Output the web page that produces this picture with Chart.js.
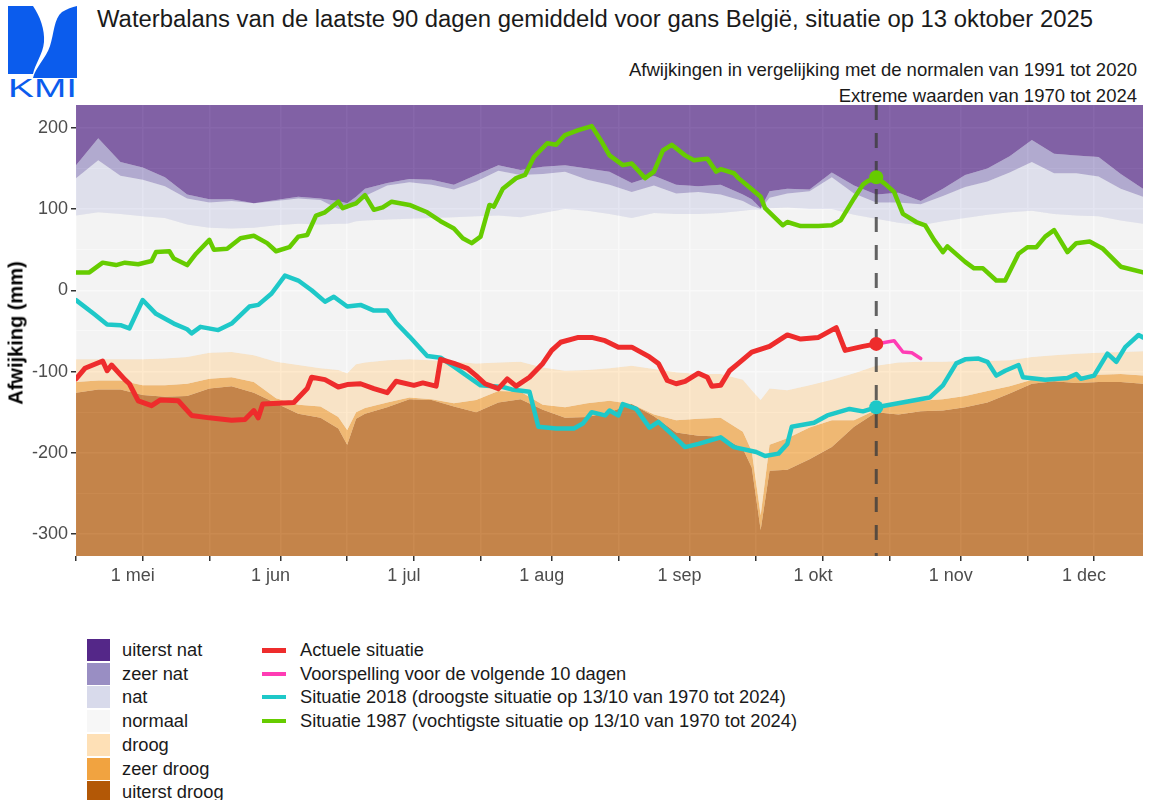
<!DOCTYPE html>
<html lang="nl">
<head>
<meta charset="utf-8">
<title>Waterbalans KMI</title>
<script src="https://cdn.jsdelivr.net/npm/chart.js"></script>
<style>
  body { margin: 0; background: #fff; font-family: "Liberation Sans", Arial, sans-serif; }
  #wrap { position: relative; width: 1150px; height: 800px; overflow: hidden; }
  #chart-box { position: absolute; left: 0; top: 0; width: 1150px; height: 600px; }
  .logo { position: absolute; left: 0; top: 0; }
  .title { position: absolute; left: 97px; top: 7px; font-size: 23.85px; line-height: 24px; color: #1a1a1a; white-space: nowrap; }
  .sub { position: absolute; right: 13px; font-size: 18.5px; line-height: 18px; color: #1a1a1a; white-space: nowrap; }
  .ytitle { position: absolute; left: 16px; top: 333px; transform: translate(-50%, -50%) rotate(-90deg);
            font-weight: bold; font-size: 20px; color: #000; white-space: nowrap; }
  .key { position: absolute; }
  .key-text { position: absolute; font-size: 18.3px; line-height: 20px; color: #1a1a1a; white-space: nowrap; }
</style>
</head>
<body>
<div id="wrap">
  <svg class="logo" width="80" height="100" viewBox="0 0 80 100">
    <path d="M8 6 L33 6 C40 16 45 30 44 42 C43 54 35 64 33 74 L8 74 Z" fill="#0b5ced"/>
    <path d="M77 6 L77 78 L33 78 C35 68 46 58 50 46 C54 34 54 18 62 12 C67 9 72 7 77 6 Z" fill="#0b5ced"/>
    <text x="8" y="97" font-size="25" fill="#0b5ced" textLength="69" lengthAdjust="spacingAndGlyphs"
          font-family="Liberation Sans, Arial, sans-serif">KMI</text>
  </svg>
  <div class="title">Waterbalans van de laatste 90 dagen gemiddeld voor gans België, situatie op 13 oktober 2025</div>
  <div class="sub" style="top:61px">Afwijkingen in vergelijking met de normalen van 1991 tot 2020</div>
  <div class="sub" style="top:87px">Extreme waarden van 1970 tot 2024</div>
  <div id="chart-box"><canvas id="balance-chart" width="1150" height="600"></canvas></div>
  <div class="ytitle">Afwijking (mm)</div>
  <div id="legend"></div>
</div>

<script>
// day 0 = 16 april, day 180 = 13 oktober (today)
const tickDays = [0, 15, 30, 46, 61, 76, 91, 107, 122, 138, 153, 168, 183, 199, 214, 229]
const tickLabels = ["", "1 mei", "", "1 jun", "", "1 jul", "", "1 aug", "", "1 sep", "", "1 okt", "", "1 nov", "", "1 dec"]
const yGridValues = [-300, -250, -200, -150, -100, -50, 0, 50, 100, 150, 200]
const todayDay = 180
const yMin = -327
const yMax = 228

// band limits (mm), top of each class
const bandDays = [0, 5, 10, 15, 20, 25, 30, 35, 40, 45, 50, 55, 59, 61, 63,
    65, 70, 75, 80, 85, 90, 95, 100, 105, 110, 115, 120, 125, 130, 135, 140, 145, 150,
    152, 154, 156,
    160, 165, 170, 175, 180, 185, 190, 195, 200, 205, 210, 215, 220, 225, 230, 235, 240]
const zeerNatTop = [154, 187, 158, 151, 139, 118, 112, 112, 107, 111, 115, 113, 110, 107, 115,
    125, 132, 137, 136, 130, 142, 154, 148, 152, 154, 150, 146, 132, 141, 130, 128, 130, 118,
    112, 101, 122,
    125, 124, 145, 129, 118, 120, 110, 125, 142, 150, 165, 185, 168, 166, 164, 143, 125]
const natTop = [138, 160, 141, 136, 128, 113, 108, 110, 107, 110, 113, 111, 100, 100, 108,
    116, 129, 133, 130, 124, 134, 147, 142, 143, 146, 136, 130, 121, 129, 119, 121, 118, 110,
    104, 100, 114,
    119, 122, 139, 119, 108, 108, 106, 116, 127, 134, 145, 158, 144, 144, 140, 125, 115]
const normaalTop = [92, 96, 94, 91, 89, 81, 77, 76, 77, 80, 82, 81, 82, 82, 85,
    86, 87, 88, 89, 90, 91, 92, 90, 95, 100, 98, 94, 89, 95, 94, 94, 95, 98,
    99, 99, 101,
    102, 100, 100, 93, 88, 83, 80, 85, 89, 93, 96, 98, 94, 92, 91, 86, 82]
const droogTop = [-85, -85, -85, -85, -84, -82, -77, -76, -80, -88, -92, -96, -98, -102, -91,
    -89, -86, -85, -86, -88, -90, -89, -88, -95, -99, -98, -96, -93, -97, -101, -103, -103, -110,
    -123, -135, -121,
    -123, -117, -110, -102, -93, -89, -88, -88, -87, -87, -86, -82, -80, -78, -77, -76, -75]
const zeerDroogTop = [-113, -111, -111, -117, -117, -115, -109, -107, -113, -133, -141, -143, -156, -172, -150,
    -145, -138, -132, -134, -139, -135, -124, -125, -141, -144, -139, -136, -140, -153, -160, -158, -157, -174,
    -198, -277, -190,
    -182, -169, -160, -160, -147, -140, -136, -134, -130, -124, -118, -110, -107, -106, -104, -103, -105]
const uiterstDroogTop = [-126, -122, -122, -129, -131, -130, -121, -118, -126, -139, -152, -157, -170, -190, -158,
    -152, -144, -134, -135, -143, -150, -138, -134, -147, -157, -156, -150, -140, -155, -175, -179, -180, -195,
    -218, -295, -222,
    -221, -208, -193, -168, -150, -153, -149, -148, -144, -138, -127, -115, -112, -114, -113, -113, -115]

// actual 2025 situation
const actualDays = [0, 2, 6, 7, 8, 11, 12, 14, 17, 19, 23, 26, 30, 35, 38, 40, 41, 42, 49, 52,
    53, 56, 59, 61, 64, 67, 70, 72, 76, 78, 81, 82, 85, 88, 90, 92, 95, 97, 99, 102,
    105, 107, 109, 113, 116, 119, 122, 125, 129, 131, 133, 135, 137, 140, 142, 143, 145, 147, 149, 152,
    156, 160, 163, 167, 171, 173, 177, 180]
const actualVals = [-109, -96, -87, -99, -92, -110, -115, -136, -142, -135, -136, -154, -157, -160, -159, -148, -157, -140, -138, -121,
    -107, -110, -119, -116, -115, -121, -126, -112, -117, -114, -118, -85, -90, -96, -105, -115, -121, -109, -118, -107,
    -90, -74, -64, -58, -58, -62, -70, -70, -82, -90, -111, -115, -112, -102, -107, -118, -117, -99, -90, -76,
    -69, -55, -60, -58, -46, -74, -69, -66]

// forecast next 10 days
const forecastDays = [180, 184, 186, 188, 190]
const forecastVals = [-66, -62, -76, -77, -84]

// 2018 (driest on 13/10)
const dry2018Days = [0, 4, 7, 10, 12, 15, 18, 22, 25, 26, 28, 32, 35, 39, 41, 44, 47, 50, 53, 56,
    58, 61, 64, 67, 70, 72, 75, 79, 82, 85, 91, 96, 98, 102, 104, 108, 112, 114, 116, 119,
    120, 122, 123, 126, 129, 131, 134, 137, 140, 145, 148, 153, 155, 158, 160, 161, 166, 169, 174, 177,
    180, 184, 192, 195, 198, 200, 203, 205, 207, 209, 212, 213, 218, 223, 225, 226, 229, 232, 234, 236,
    239, 240]
const dry2018Vals = [-12, -29, -42, -43, -47, -12, -29, -41, -48, -53, -45, -49, -41, -20, -18, -4, 18, 12, 0, -14,
    -8, -20, -18, -25, -25, -40, -57, -81, -83, -94, -117, -119, -122, -125, -168, -170, -170, -164, -150, -154,
    -148, -154, -140, -146, -169, -162, -177, -193, -189, -181, -193, -199, -204, -201, -189, -168, -163, -154, -146, -149,
    -144, -140, -132, -117, -90, -85, -84, -88, -105, -99, -92, -107, -110, -108, -103, -109, -105, -78, -88, -70,
    -55, -58]

// 1987 (wettest on 13/10)
const wet1987Days = [0, 3, 6, 9, 11, 14, 17, 18, 21, 22, 25, 27, 30, 31, 34, 37, 40, 43, 45, 48,
    50, 52, 54, 56, 59, 60, 62, 63, 65, 67, 69, 71, 75, 79, 82, 85, 87, 89, 91, 93,
    94, 96, 99, 101, 103, 106, 108, 110, 113, 116, 118, 120, 123, 125, 128, 130, 132, 134, 137, 139,
    142, 144, 145, 148, 149, 151, 154, 155, 159, 160, 163, 167, 170, 172, 175, 177, 178, 180, 182, 184,
    186, 189, 191, 193, 195, 196, 200, 202, 204, 207, 209, 212, 214, 216, 218, 220, 223, 225, 228, 231,
    235, 240]
const wet1987Vals = [22, 22, 34, 31, 34, 32, 36, 47, 48, 39, 31, 45, 62, 50, 51, 64, 67, 58, 48, 53,
    66, 68, 92, 96, 109, 101, 105, 107, 117, 99, 102, 109, 105, 96, 85, 76, 64, 58, 66, 105,
    103, 125, 138, 142, 164, 181, 179, 191, 197, 202, 185, 166, 154, 156, 138, 146, 172, 179, 166, 160,
    162, 146, 149, 144, 138, 129, 115, 101, 80, 84, 79, 79, 80, 86, 113, 130, 134, 139, 131, 121,
    94, 84, 80, 62, 47, 54, 35, 27, 27, 12, 12, 45, 53, 53, 66, 74, 47, 58, 60, 51,
    29, 22]

const bandNames = ["uiterst nat", "zeer nat", "nat", "normaal", "droog", "zeer droog", "uiterst droog"]
const bandColors = ["#542788", "#998ec3", "#d8daeb", "#f7f7f7", "#fee0b6", "#f1a340", "#b35806"]
const lineNames = ["Actuele situatie", "Voorspelling voor de volgende 10 dagen",
    "Situatie 2018 (droogste situatie op 13/10 van 1970 tot 2024)",
    "Situatie 1987 (vochtigste situatie op 13/10 van 1970 tot 2024)"]
const lineColors = ["#ee2c2c", "#ff3cb4", "#1ec8c8", "#66cc00"]

const bandAlpha = 0.7
const fontFamily = '"Liberation Sans", Arial, sans-serif'

const toPoints = (days, vals) => days.map((d, i) => ({ x: d, y: vals[i] }))

const withAlpha = (hex, a) => {
    const n = parseInt(hex.slice(1), 16)
    return `rgba(${(n >> 16) & 255}, ${(n >> 8) & 255}, ${n & 255}, ${a})`
}

// one dataset per class; each fills down to the previous limit
const bandLimits = [zeerNatTop, natTop, normaalTop, droogTop, zeerDroogTop, uiterstDroogTop, uiterstDroogTop]
const bandSets = bandLimits.map((limit, i) => ({
    data: toPoints(bandDays, limit),
    borderColor: "rgba(0,0,0,0)",
    borderWidth: 0,
    pointRadius: 0,
    backgroundColor: withAlpha(bandColors[i], bandAlpha),
    fill: i === 0 ? "end" : (i === bandLimits.length - 1 ? "start" : "-1"),
    order: 10
}))

const markToday = (size) => (ctx) => (ctx.raw && ctx.raw.x === todayDay ? size : 0)

const lineSet = (days, vals, color, width, order, marker) => ({
    data: toPoints(days, vals),
    borderColor: color,
    backgroundColor: color,
    borderWidth: width,
    borderJoinStyle: "round",
    borderCapStyle: "round",
    pointRadius: marker ? markToday(marker) : 0,
    pointBorderWidth: 0,
    pointBackgroundColor: color,
    fill: false,
    order: order
})

const todayLine = {
    data: [{ x: todayDay, y: yMax }, { x: todayDay, y: yMin }],
    borderColor: "rgba(60, 60, 60, 0.8)",
    borderWidth: 3,
    borderDash: [15, 13],
    pointRadius: 0,
    fill: false,
    order: 6
}

// plot panel background, ggplot style
const panelBackground = {
    id: "panelBackground",
    beforeDraw(chart) {
        const { ctx, chartArea } = chart
        ctx.save()
        ctx.fillStyle = "#ebebeb"
        ctx.fillRect(chartArea.left, chartArea.top, chartArea.right - chartArea.left, chartArea.bottom - chartArea.top)
        ctx.restore()
    }
}

Chart.defaults.font.family = fontFamily

const balanceChart = new Chart(document.getElementById("balance-chart"), {
    type: "line",
    data: {
        datasets: [
            ...bandSets,
            todayLine,
            lineSet(wet1987Days, wet1987Vals, lineColors[3], 4.5, 4, 7),
            lineSet(dry2018Days, dry2018Vals, lineColors[2], 4.5, 3, 7),
            lineSet(forecastDays, forecastVals, lineColors[1], 3.5, 2, 0),
            lineSet(actualDays, actualVals, lineColors[0], 5, 1, 7)
        ]
    },
    options: {
        responsive: false,
        animation: false,
        events: [],
        layout: { padding: { top: 105, left: 0, right: 1, bottom: 0 } },
        plugins: { legend: { display: false }, tooltip: { enabled: false } },
        scales: {
            x: {
                type: "linear",
                min: 0,
                max: 240,
                afterBuildTicks: (scale) => { scale.ticks = tickDays.map((v) => ({ value: v })) },
                afterFit: (scale) => { scale.height = 44 },
                ticks: {
                    autoSkip: false,
                    maxRotation: 0,
                    labelOffset: -10,
                    padding: 4,
                    color: "#4d4d4d",
                    font: { size: 18 },
                    callback: (value) => tickLabels[tickDays.indexOf(value)]
                },
                grid: { color: "#ffffff", lineWidth: 1.5, tickColor: "#333333", tickLength: 5 },
                border: { display: false }
            },
            y: {
                min: yMin,
                max: yMax,
                afterBuildTicks: (scale) => { scale.ticks = yGridValues.map((v) => ({ value: v })) },
                afterFit: (scale) => { scale.width = 76 },
                ticks: {
                    autoSkip: false,
                    padding: 3,
                    color: "#4d4d4d",
                    font: { size: 18 },
                    callback: (value) => (value % 100 === 0 ? String(value) : "")
                },
                grid: {
                    color: "#ffffff",
                    lineWidth: (ctx) => (ctx.tick && ctx.tick.value % 100 === 0 ? 1.5 : 0.75),
                    tickColor: (ctx) => (ctx.tick && ctx.tick.value % 100 === 0 ? "#333333" : "rgba(0,0,0,0)"),
                    tickLength: 5
                },
                border: { display: false }
            }
        }
    },
    plugins: [panelBackground]
})

// legend: colour classes on the left, lines on the right
const legendBox = document.getElementById("legend")
const rowTop = 650
const rowStep = 23.7

bandNames.forEach((name, i) => {
    const yc = rowTop + i * rowStep
    legendBox.innerHTML += `<div class="key" style="left:87px;top:${yc - 11}px;width:23px;height:22px;background:${bandColors[i]}"></div>`
    legendBox.innerHTML += `<div class="key-text" style="left:122px;top:${yc - 10}px">${name}</div>`
})

lineNames.forEach((name, i) => {
    const yc = rowTop + i * rowStep
    const h = i === 0 ? 5 : 4
    legendBox.innerHTML += `<div class="key" style="left:262px;top:${yc - h / 2}px;width:24px;height:${h}px;background:${lineColors[i]}"></div>`
    legendBox.innerHTML += `<div class="key-text" style="left:300px;top:${yc - 10}px">${name}</div>`
})
</script>
</body>
</html>
